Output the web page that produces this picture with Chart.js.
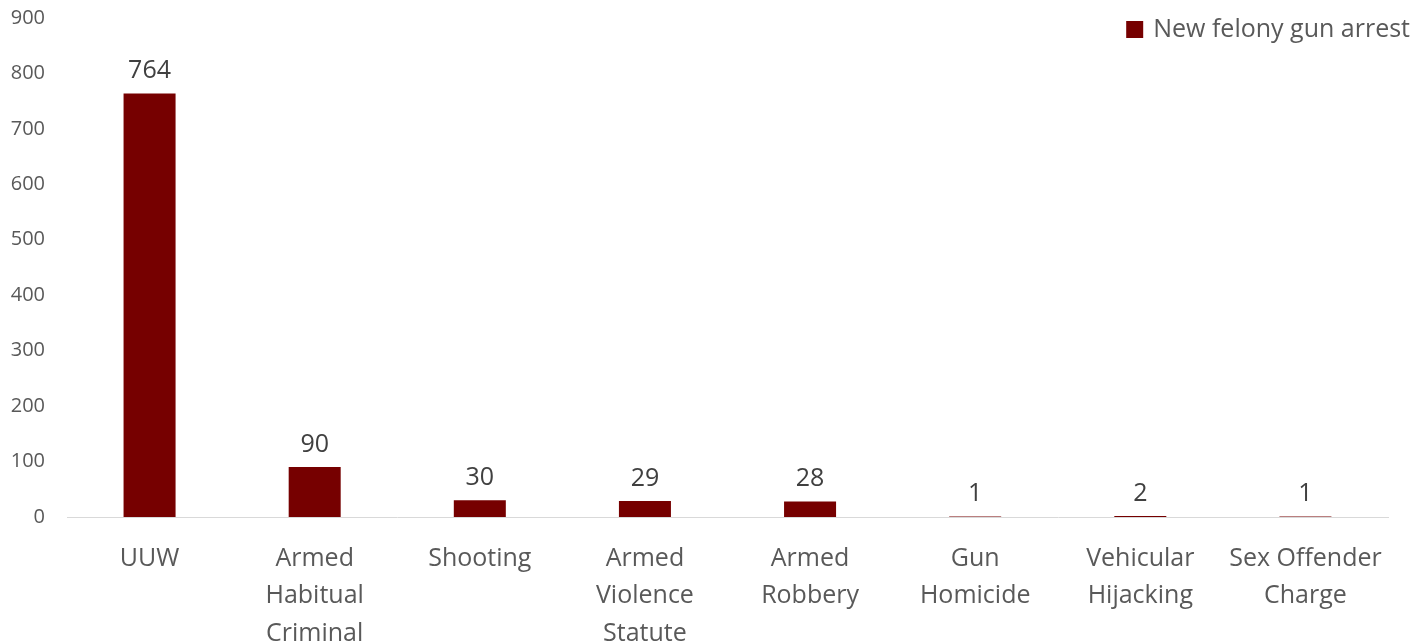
<!DOCTYPE html>
<html>
<head>
<meta charset="utf-8">
<script src="https://cdn.jsdelivr.net/npm/chart.js@4/dist/chart.umd.min.js"></script>
<style>
  html, body { margin: 0; padding: 0; background: #fff; overflow: hidden; }
  #wrap { width: 1427px; height: 644px; position: relative; }
</style>
</head>
<body>
<div id="wrap"><canvas id="gunArrestChart"></canvas></div>
<script>
const categories = [
    'UUW',
    ['Armed', 'Habitual', 'Criminal'],
    'Shooting',
    ['Armed', 'Violence', 'Statute'],
    ['Armed', 'Robbery'],
    ['Gun', 'Homicide'],
    ['Vehicular', 'Hijacking'],
    ['Sex Offender', 'Charge']
];
const arrestCounts = [764, 90, 30, 29, 28, 1, 2, 1];
const seriesName = 'New felony gun arrest';
const yTicks = [0, 100, 200, 300, 400, 500, 600, 700, 800, 900];

const barColor = '#760000';
const textColor = '#595959';
const fontFamily = '"Open Sans", "Liberation Sans", sans-serif';

// value labels above each bar
const barLabels = {
    id: 'barLabels',
    afterDatasetsDraw(chart) {
        const ctx = chart.ctx;
        const meta = chart.getDatasetMeta(0);
        ctx.save();
        ctx.font = '25px ' + fontFamily;
        ctx.fillStyle = '#404040';
        ctx.textAlign = 'center';
        ctx.textBaseline = 'bottom';
        meta.data.forEach((bar, i) => {
            ctx.fillText(String(chart.data.datasets[0].data[i]), bar.x, bar.y - 10);
        });
        ctx.restore();
    }
};

// legend in the top right corner, over the plot
const cornerLegend = {
    id: 'cornerLegend',
    afterDraw(chart) {
        const ctx = chart.ctx;
        const ds = chart.data.datasets[0];
        ctx.save();
        ctx.font = '25px ' + fontFamily;
        const w = ctx.measureText(ds.label).width;
        const right = 1410;
        const textX = right - w;
        ctx.fillStyle = ds.backgroundColor;
        ctx.fillRect(textX - 27, 21, 17, 17);
        ctx.fillStyle = textColor;
        ctx.textAlign = 'left';
        ctx.textBaseline = 'middle';
        ctx.fillText(ds.label, textX, 30);
        ctx.restore();
    }
};

new Chart(document.getElementById('gunArrestChart'), {
    type: 'bar',
    data: {
        labels: categories,
        datasets: [{
            label: seriesName,
            data: arrestCounts,
            backgroundColor: barColor,
            borderWidth: 0,
            categoryPercentage: 1.0,
            barPercentage: 0.315
        }]
    },
    options: {
        responsive: true,
        maintainAspectRatio: false,
        animation: false,
        layout: { padding: { top: 18, right: 39, left: 0, bottom: 0 } },
        plugins: {
            legend: { display: false },
            tooltip: { enabled: false }
        },
        scales: {
            x: {
                grid: { display: false, drawTicks: false },
                border: { display: true, color: '#d9d9d9', width: 1 },
                ticks: {
                    color: textColor,
                    font: { family: fontFamily, size: 25, lineHeight: 1.5 },
                    padding: 23,
                    maxRotation: 0,
                    autoSkip: false
                },
                afterFit(scale) { scale.height = 127; }
            },
            y: {
                min: 0,
                max: 900,
                grid: { display: false, drawTicks: false },
                border: { display: false },
                afterBuildTicks(scale) { scale.ticks = yTicks.map(v => ({ value: v })); },
                ticks: {
                    color: textColor,
                    font: { family: fontFamily, size: 20 },
                    padding: 22
                },
                afterFit(scale) {
                    scale.width = 67;
                    scale.paddingTop = 0;
                    scale.paddingBottom = 0;
                }
            }
        }
    },
    plugins: [barLabels, cornerLegend]
});
</script>
</body>
</html>
